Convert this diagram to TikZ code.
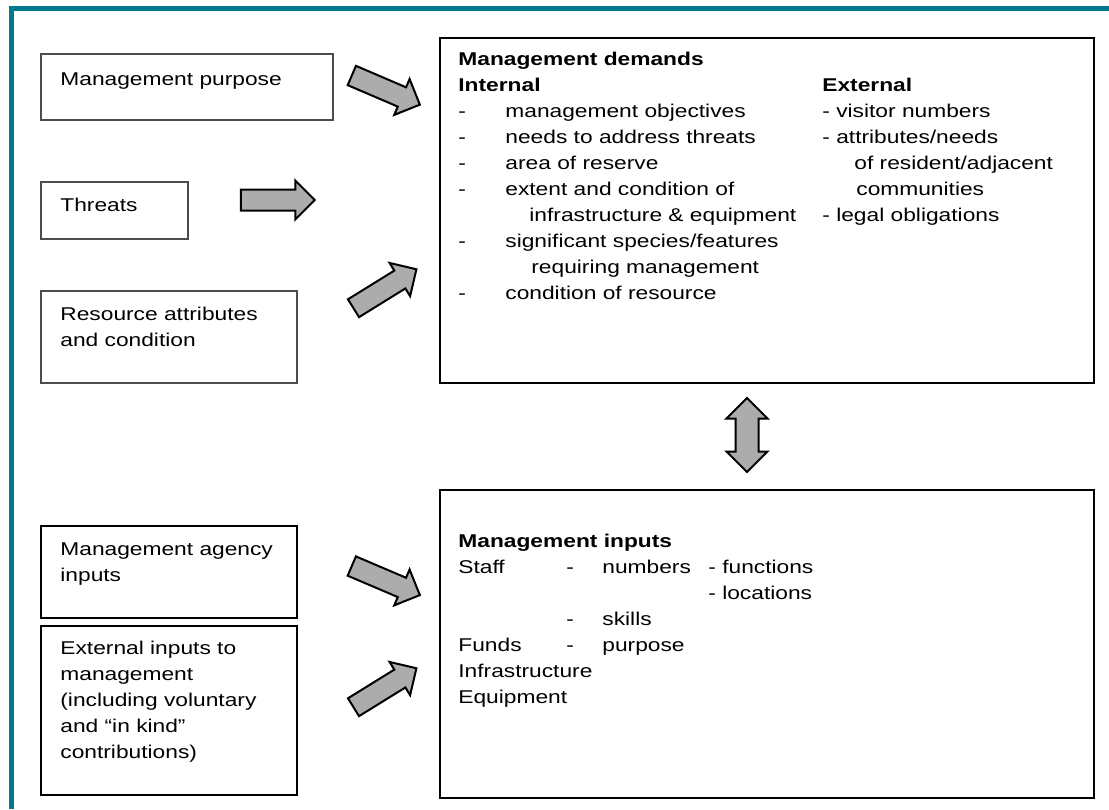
\documentclass[tikz,border=0pt]{standalone}
\usepackage{fontspec}
\setmainfont{Liberation Sans}[FakeStretch=1.23]
\usetikzlibrary{shapes.arrows}

\definecolor{framecol}{RGB}{0,122,140}
\definecolor{arrowgray}{RGB}{172,172,172}

\tikzset{
  sidebox/.style={draw=black!70, line width=1pt, anchor=north west, inner sep=0pt},
  inbox/.style={draw=black, line width=1pt, anchor=north west, inner sep=0pt},
  txt/.style={anchor=base west, inner sep=0pt, font=\fontsize{9.25}{13}\selectfont},
  blockarrow/.style={single arrow, draw=black, line width=1pt, fill=arrowgray,
    minimum height=37pt, minimum width=18.5pt, single arrow head extend=4.5pt,
    inner xsep=0pt, inner ysep=4.75pt, sloped, allow upside down},
  twoarrow/.style={double arrow, draw=black, line width=1pt, fill=arrowgray,
    minimum height=37pt, minimum width=18.5pt, double arrow head extend=4.5pt,
    inner xsep=0pt, inner ysep=5.25pt, sloped, allow upside down}
}

\begin{document}
\begin{tikzpicture}[x=0.5pt,y=-0.5pt]
\useasboundingbox (0,0) rectangle (1109,809);
\fill[white] (0,0) rectangle (1109,809);
% frame
\fill[framecol] (9,6) rectangle (1109,11);
\fill[framecol] (9,6) rectangle (14,809);

% left boxes
\node[sidebox, minimum width=146pt, minimum height=33pt] (purpose) at (40,53) {};
\node[sidebox, minimum width=73.5pt, minimum height=28.5pt] (threats) at (40,181) {};
\node[sidebox, minimum width=128pt, minimum height=46pt] (resource) at (40,290) {};
\node[inbox, minimum width=128pt, minimum height=46pt] (agency) at (40,525) {};
\node[inbox, minimum width=128pt, minimum height=84.5pt] (extinputs) at (40,625) {};

\node[txt] (purposetxt) at (60,85) {Management purpose};
\node[txt] (threatstxt) at (60,211) {Threats};
\node[txt] (resourcetxt) at (60,320) {\begin{tabular}[t]{@{}l@{}}Resource attributes\\and condition\end{tabular}};
\node[txt] (agencytxt) at (60,555) {\begin{tabular}[t]{@{}l@{}}Management agency\\inputs\end{tabular}};
\node[txt] (extinputstxt) at (60,654) {\begin{tabular}[t]{@{}l@{}}External inputs to\\management\\(including voluntary\\and “in kind”\\contributions)\end{tabular}};

% right boxes
\node[inbox, minimum width=327pt, minimum height=172.5pt] (demands) at (439,37) {};
\node[inbox, minimum width=327pt, minimum height=154pt] (inputs) at (439,489) {};

\node[txt] (internaltxt) at (458,65) {\begin{tabular}[t]{@{}p{23.5pt}@{}l@{}}
\multicolumn{2}{@{}l@{}}{\textbf{Management demands}}\\
\multicolumn{2}{@{}l@{}}{\textbf{Internal}}\\
- & management objectives\\
- & needs to address threats\\
- & area of reserve\\
- & extent and condition of\\
  & \hspace{12pt}infrastructure \& equipment\\
- & significant species/features\\
  & \hspace{13pt}requiring management\\
- & condition of resource
\end{tabular}};
\node[txt] (externaltxt) at (822,91) {\begin{tabular}[t]{@{}l@{}}
\textbf{External}\\
- visitor numbers\\
- attributes/needs\\
\hspace{16pt}of resident/adjacent\\
\hspace{17pt}communities\\
- legal obligations
\end{tabular}};

\node[txt] (inputstxt) at (458,547) {\begin{tabular}[t]{@{}p{54pt}@{}p{18pt}@{}p{53pt}@{}l@{}}
\multicolumn{4}{@{}l@{}}{\textbf{Management inputs}}\\
Staff & - & numbers & - functions\\
 & & & - locations\\
 & - & skills & \\
Funds & - & purpose & \\
\multicolumn{4}{@{}l@{}}{Infrastructure}\\
\multicolumn{4}{@{}l@{}}{Equipment}
\end{tabular}};

% block arrows
\coordinate (purposeA) at (346,73);   \coordinate (purposeB) at (416,103);
\coordinate (threatsA) at (236,200);  \coordinate (threatsB) at (309,200);
\coordinate (resourceA) at (349,311); \coordinate (resourceB) at (412,272);
\coordinate (agencyA) at (347,564);   \coordinate (agencyB) at (415,593);
\coordinate (extA) at (349,710);      \coordinate (extB) at (412,671);
\coordinate (linkA) at (747,398);     \coordinate (linkB) at (747,472);

\path (purposeA) -- node[blockarrow] (arrpurpose) {} (purposeB);
\path (threatsA) -- node[blockarrow] (arrthreats) {} (threatsB);
\path (resourceA) -- node[blockarrow] (arrresource) {} (resourceB);
\path (agencyA) -- node[blockarrow] (arragency) {} (agencyB);
\path (extA) -- node[blockarrow] (arrext) {} (extB);
\path (linkA) -- node[twoarrow] (arrlink) {} (linkB);
\end{tikzpicture}
\end{document}
